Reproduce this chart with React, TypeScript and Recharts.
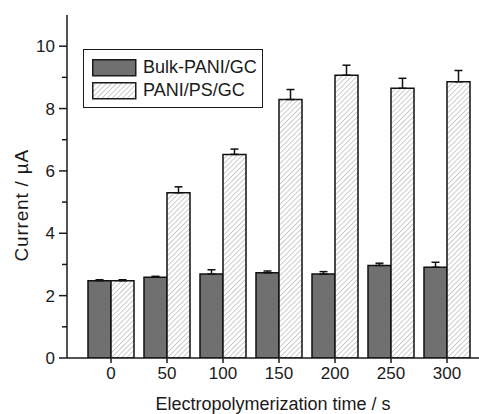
import React from "react";
import {
  BarChart,
  Bar,
  XAxis,
  YAxis,
  ErrorBar,
  Legend,
} from "recharts";

// electropolymerization time (s)
const times = ["0", "50", "100", "150", "200", "250", "300"];

// Bulk-PANI/GC current (µA) and upper error
const bulkCurrent = [2.48, 2.59, 2.69, 2.73, 2.69, 2.97, 2.91];
const bulkError = [0.03, 0.03, 0.14, 0.06, 0.08, 0.07, 0.16];

// PANI/PS/GC current (µA) and upper error
const psCurrent = [2.48, 5.3, 6.53, 8.29, 9.07, 8.65, 8.86];
const psError = [0.03, 0.19, 0.17, 0.32, 0.32, 0.32, 0.36];

const yTicks = [0, 1, 2, 3, 4, 5, 6, 7, 8, 9, 10];

const FONT = "'Liberation Sans', Arial, sans-serif";
const TEXT = "#1a1a1a";
const Y_TICK_SIZE = 8;
const Y_TICK_MARGIN = 4;

const data = times.map((t, i) => ({
  time: t,
  bulk: bulkCurrent[i],
  bulkErr: [0, bulkError[i]],
  ps: psCurrent[i],
  psErr: [0, psError[i]],
}));

// even values get a label and a long tick, odd ones only a short tick
const YTick = (props: any) => {
  const { x, y, payload } = props;
  const axisX = x + Y_TICK_MARGIN + Y_TICK_SIZE;
  const major = payload.value % 2 === 0;
  return (
    <g>
      <line
        x1={axisX - (major ? Y_TICK_SIZE : 5)}
        x2={axisX}
        y1={y}
        y2={y}
        stroke={TEXT}
        strokeWidth={1.5}
      />
      {major && (
        <text
          x={x}
          y={y}
          dy={6}
          textAnchor="end"
          fontSize={17}
          fontFamily={FONT}
          fill={TEXT}
        >
          {payload.value}
        </text>
      )}
    </g>
  );
};

const LegendBox = (props: any) => {
  const { payload } = props;
  return (
    <div
      style={{
        border: `1.5px solid ${TEXT}`,
        background: "#fff",
        width: 178,
        padding: "6px 0 5px 0",
        fontFamily: FONT,
        fontSize: 18,
        color: TEXT,
      }}
    >
      {(payload || []).map((item: any) => (
        <div
          key={item.value}
          style={{ display: "flex", alignItems: "center", height: 23 }}
        >
          <svg width={54} height={18} style={{ marginLeft: 8 }}>
            <rect
              x={0.75}
              y={0.75}
              width={43}
              height={16}
              fill={item.payload.fill}
              stroke={TEXT}
              strokeWidth={1.5}
            />
          </svg>
          <span style={{ marginLeft: -3 }}>{item.value}</span>
        </div>
      ))}
    </div>
  );
};

export default function App() {
  return (
    <div style={{ position: "absolute", left: 0, top: 0, background: "#fff" }}>
      <BarChart
        width={479}
        height={414}
        data={data}
        margin={{ top: 15, right: 0, left: 0, bottom: 0 }}
        barCategoryGap={5}
        barGap={0}
      >
        <defs>
          <pattern
            id="hatch"
            patternUnits="userSpaceOnUse"
            width={3.6}
            height={3.6}
            patternTransform="rotate(45)"
          >
            <rect width={3.6} height={3.6} fill="#fff" />
            <line x1={0} y1={0} x2={0} y2={3.6} stroke="#b0b0b0" strokeWidth={1.3} />
          </pattern>
        </defs>
        <XAxis
          dataKey="time"
          height={56}
          padding={{ left: 16, right: 4 }}
          axisLine={{ stroke: TEXT, strokeWidth: 1.5 }}
          tickLine={{ stroke: TEXT, strokeWidth: 1.5 }}
          tickSize={5}
          tickMargin={4}
          tick={{ fill: TEXT, fontSize: 17, fontFamily: FONT }}
          label={{
            value: "Electropolymerization time / s",
            position: "insideBottom",
            offset: 4,
            fill: TEXT,
            fontSize: 18,
            fontFamily: FONT,
          }}
        />
        <YAxis
          width={67}
          domain={[0, 11]}
          ticks={yTicks}
          interval={0}
          allowDataOverflow
          axisLine={{ stroke: TEXT, strokeWidth: 1.5 }}
          tickLine={false}
          tickSize={Y_TICK_SIZE}
          tickMargin={Y_TICK_MARGIN}
          tick={<YTick />}
          label={{
            value: "Current / µA",
            angle: -90,
            position: "insideLeft",
            offset: 21,
            dy: 75,
            fill: TEXT,
            fontSize: 19,
            letterSpacing: 0.8,
            fontFamily: FONT,
          }}
        />
        <Legend
          content={<LegendBox />}
          layout="vertical"
          align="center"
          verticalAlign="middle"
          wrapperStyle={{ left: 83, top: 49, width: "auto" }}
        />
        <Bar
          dataKey="bulk"
          name="Bulk-PANI/GC"
          fill="#707070"
          stroke="#111"
          strokeWidth={1.5}
          isAnimationActive={false}
        >
          <ErrorBar dataKey="bulkErr" width={4} stroke="#111" strokeWidth={1.5} />
        </Bar>
        <Bar
          dataKey="ps"
          name="PANI/PS/GC"
          fill="url(#hatch)"
          stroke="#111"
          strokeWidth={1.5}
          isAnimationActive={false}
        >
          <ErrorBar dataKey="psErr" width={4} stroke="#111" strokeWidth={1.5} />
        </Bar>
      </BarChart>
    </div>
  );
}
